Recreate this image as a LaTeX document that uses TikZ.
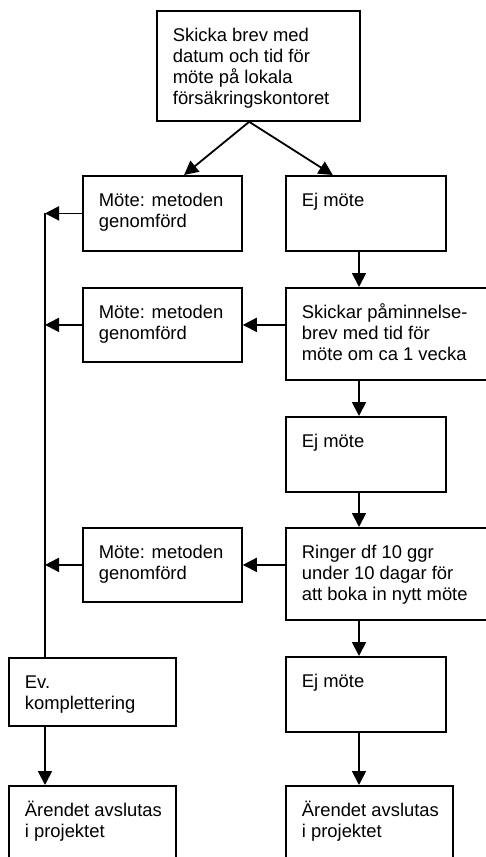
\documentclass[tikz,border=0pt]{standalone}
\usepackage{fontspec}
\setmainfont{Liberation Sans}
\usetikzlibrary{arrows.meta,calc}
\newcommand{\flowtext}[3]{\parbox[c][#2][t]{#1}{\raggedright\leftskip=16pt\rule{0pt}{31pt}#3}}
\tikzset{
  flowbox/.style={draw,line width=1.8pt,inner sep=0pt,anchor=north west,font=\fontsize{18.4}{21}\selectfont},
  flowarrow/.style={line width=1.8pt,-{Triangle[length=14pt,width=14pt]}},
  flowline/.style={line width=1.8pt}
}
\begin{document}
\begin{tikzpicture}[x=1pt,y=-1pt]
  \useasboundingbox (0,0) rectangle (486,857);
  \clip (0,0) rectangle (486,857);
  \coordinate (lcol) at (45,0);
  \coordinate (rcol) at (359,0);

  \node[flowbox] (start) at (156,10)
    {\flowtext{203pt}{110pt}{Skicka brev med\\datum och tid för\\möte på lokala\\försäkringskontoret}};
  \node[flowbox] (met1) at (82,175) {\flowtext{159pt}{75pt}{Möte: metoden\\genomförd}};
  \node[flowbox] (ej1) at (285,175) {\flowtext{160pt}{75pt}{Ej möte}};
  \node[flowbox] (remind) at (285,287)
    {\flowtext{210pt}{92pt}{Skickar påminnelse-\\brev med tid för\\möte om ca 1 vecka}};
  \node[flowbox] (met2) at (82,287) {\flowtext{159pt}{74pt}{Möte: metoden\\genomförd}};
  \node[flowbox] (ej2) at (285,416) {\flowtext{160pt}{75pt}{Ej möte}};
  \node[flowbox] (ring) at (285,527)
    {\flowtext{210pt}{92pt}{Ringer df 10 ggr\\under 10 dagar för\\att boka in nytt möte}};
  \node[flowbox] (met3) at (82,527) {\flowtext{159pt}{74pt}{Möte: metoden\\genomförd}};
  \node[flowbox] (ej3) at (285,656) {\flowtext{160pt}{75pt}{Ej möte}};
  \node[flowbox] (ev) at (8,657) {\flowtext{167pt}{68pt}{Ev.\\komplettering}};
  \node[flowbox] (end1) at (8,785) {\flowtext{167pt}{100pt}{Ärendet avslutas\\i projektet}};
  \node[flowbox] (end2) at (285,785) {\flowtext{167pt}{100pt}{Ärendet avslutas\\i projektet}};

  \coordinate (fork) at ($(start.south west)!0.455!(start.south east)$);
  \draw[flowarrow] (fork) -- ($(met1.north)!0.27!(met1.north east)$);
  \draw[flowarrow] (fork) -- ($(ej1.north)!0.41!(ej1.north west)$);

  \draw[flowarrow] (ej1.south -| rcol) -- (remind.north -| rcol);
  \draw[flowarrow] (remind.south -| rcol) -- (ej2.north -| rcol);
  \draw[flowarrow] (ej2.south -| rcol) -- (ring.north -| rcol);
  \draw[flowarrow] (ring.south -| rcol) -- (ej3.north -| rcol);
  \draw[flowarrow] (ej3.south -| rcol) -- (end2.north -| rcol);

  \draw[flowarrow] (remind.west |- met2.east) -- (met2.east);
  \draw[flowarrow] (ring.west |- met3.east) -- (met3.east);

  \draw[flowarrow] (met1.west) -- (met1.west -| lcol);
  \draw[flowarrow] (met2.west) -- (met2.west -| lcol);
  \draw[flowarrow] (met3.west) -- (met3.west -| lcol);
  \draw[flowline] (met1.west -| lcol) -- (ev.north -| lcol);
  \draw[flowarrow] (ev.south -| lcol) -- (end1.north -| lcol);
\end{tikzpicture}
\end{document}
